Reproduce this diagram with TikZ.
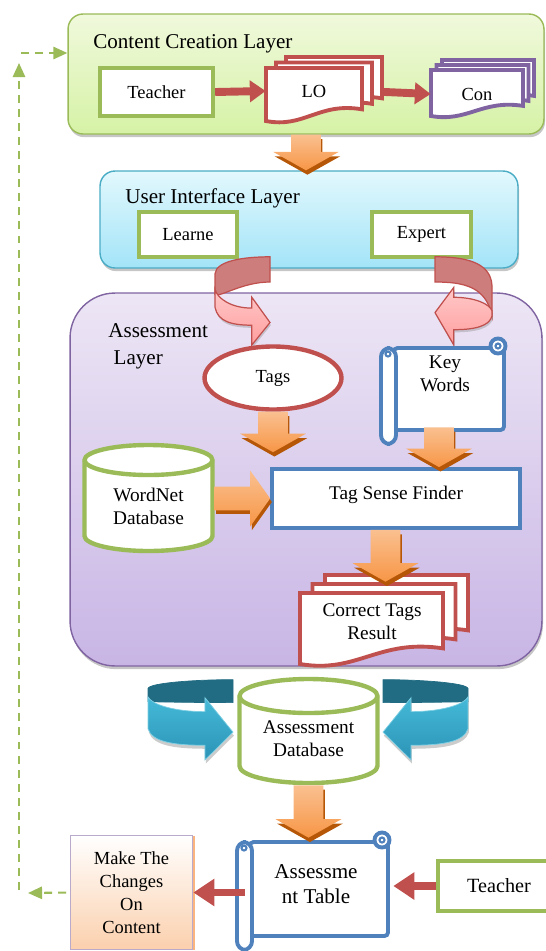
\documentclass[tikz,border=0pt]{standalone}
\usepackage{fontspec}
\setmainfont{Liberation Serif}
\usetikzlibrary{positioning,calc,shapes.geometric,arrows.meta,shadows}

\definecolor{lgreen}{HTML}{9BBB59}
\definecolor{lred}{HTML}{C0504D}
\definecolor{lpurple}{HTML}{8064A2}
\definecolor{lblue}{HTML}{4F81BD}
\definecolor{laqua}{HTML}{4BACC6}
\definecolor{lorange}{HTML}{F79646}
\definecolor{lorangelt}{HTML}{FAC090}
\definecolor{lorangedk}{HTML}{B65708}
\definecolor{tealdk}{HTML}{216C82}
\definecolor{teallt}{HTML}{45BAD8}
\definecolor{tealmd}{HTML}{2C93B6}
\definecolor{pinkdk}{HTML}{CD7D7C}
\definecolor{pinklt}{HTML}{FFC8C8}
\definecolor{pinkmd}{HTML}{FF9E9E}
\definecolor{cclTop}{HTML}{F0F9DC}
\definecolor{cclBot}{HTML}{D6F2A6}
\definecolor{uiTop}{HTML}{E2F8FD}
\definecolor{uiBot}{HTML}{A3E4F8}
\definecolor{alTop}{HTML}{EDE6F5}
\definecolor{alBot}{HTML}{C8B5E5}
\definecolor{peachBot}{HTML}{FBD0AD}

% stack of three pages, front one last
\newcommand{\docstack}[7]{%
  \foreach \i in {2,1,0}{%
    \pgfmathsetmacro{\xa}{#2+#6*\i}\pgfmathsetmacro{\ya}{#3-#7*\i}%
    \pgfmathsetmacro{\xb}{#4+#6*\i}\pgfmathsetmacro{\yb}{#5-#7*\i}%
    \draw[#1] (\xa,\ya) -- (\xb,\ya) -- (\xb,{\yb-0.22*(\yb-\ya)})
      .. controls ({\xa+0.55*(\xb-\xa)},{\yb-0.36*(\yb-\ya)}) and ({\xa+0.4*(\xb-\xa)},{\yb+0.14*(\yb-\ya)}) .. (\xa,\yb) -- cycle;}}

\newcommand{\scrollshape}[5]{%
  \draw[#1, rounded corners=2pt] ({#2+14},{#3+10}) rectangle ({#4-3},{#5-15});
  \draw[#1] ({#4-9},{#3+8}) circle[radius=7.5];
  \draw[#1, line width=1.2pt] ({#4-9},{#3+8}) circle[radius=2.5];
  \draw[#1, rounded corners=5pt] ({#2+1},{#3+10}) rectangle ({#2+16},{#5-1});
  \draw[#1, line width=1.2pt] ({#2+8},{#3+16}) circle[radius=2.5];}

\newcommand{\cylshape}[6]{%
  \draw[#1] ({#2-#5},#3) -- ({#2-#5},#4) arc[start angle=180, end angle=0, x radius=#5, y radius=#6]
    -- ({#2+#5},#3) arc[start angle=0, end angle=-180, x radius=#5, y radius=#6] -- cycle;
  \draw[#1, fill=none] ({#2-#5},#3) arc[start angle=180, end angle=0, x radius=#5, y radius=#6];}

\newcommand{\orangedown}[2]{%
  \fill[lorangedk] let \p1=#1, \p2=#2 in
    (\x1-7.7pt,\y1-2.5pt) -- (\x1-7.7pt,\y2+8pt) -- (\x1-17.9pt,\y2+8pt) -- (\x1+0.8pt,\y2-2.5pt)
    -- (\x1+19.5pt,\y2+8pt) -- (\x1+9.3pt,\y2+8pt) -- (\x1+9.3pt,\y1-2.5pt) -- cycle;
  \path[top color=lorangelt, bottom color=lorange] let \p1=#1, \p2=#2 in
    (\x1-8.5pt,\y1) -- (\x1-8.5pt,\y2+10.5pt) -- (\x1-18.7pt,\y2+10.5pt) -- (\x1,\y2)
    -- (\x1+18.7pt,\y2+10.5pt) -- (\x1+8.5pt,\y2+10.5pt) -- (\x1+8.5pt,\y1) -- cycle;}

\newcommand{\orangeright}[2]{%
  \fill[lorangedk] let \p1=#1, \p2=#2 in
    (\x1+1pt,\y2+4.8pt) -- (\x2-10.3pt,\y2+4.8pt) -- (\x2-10.3pt,\y2+13.9pt) -- (\x2+1pt,\y2-2pt)
    -- (\x2-10.3pt,\y2-17.9pt) -- (\x2-10.3pt,\y2-8.8pt) -- (\x1+1pt,\y2-8.8pt) -- cycle;
  \path[top color=lorangelt, bottom color=lorange] let \p1=#1, \p2=#2 in
    (\x1,\y2+6.8pt) -- (\x2-11.3pt,\y2+6.8pt) -- (\x2-11.3pt,\y2+15.9pt) -- (\x2,\y2)
    -- (\x2-11.3pt,\y2-15.9pt) -- (\x2-11.3pt,\y2-6.8pt) -- (\x1,\y2-6.8pt) -- cycle;}

% turning arrow in a unit box: shift, xscale, yscale, colour set,
% head top, band top, band bottom, tip, band start on the outer side
\newcommand{\uturn}[9]{%
  \begin{scope}[shift={#1}, xscale=#2, yscale=#3]
    \path[#4back] (1,0.02) .. controls (0.55,0.02) and (0.02,0.06) .. (0,{#9*0.55}) -- (0,{#9+0.06})
      .. controls (0.1,{#6-0.12}) and (0.5,0.3) .. (1,0.3) -- cycle;
    \path[#4front] (0,#9) -- (0,{max(#9+0.06,#7-0.2)}) .. controls (0.05,{#7-0.04}) and (0.3,#7) .. (0.67,#7)
      -- (0.67,1) -- (1,#8) -- (0.67,#5) -- (0.67,#6)
      .. controls (0.3,#6) and (0.04,{(#6+#9)/2}) .. (0,#9) -- cycle;
  \end{scope}}

\begin{document}
\begin{tikzpicture}[x=0.02cm, y=-0.02cm]
  \tikzstyle{txt}=[font=\fontsize{10.5}{12.6}\selectfont, align=center]
  \tikzstyle{cam}=[font=\fontsize{11}{13}\selectfont, align=center]
  \tikzstyle{layertitle}=[font=\fontsize{12}{15.3}\selectfont, inner sep=0pt]
  \tikzstyle{layerbox}=[draw, line width=0.8pt, drop shadow={opacity=0.45, shadow xshift=0.6pt, shadow yshift=-1.8pt}]
  \tikzstyle{greenbox}=[draw=lgreen, line width=2.5pt, fill=white, txt]
  \tikzstyle{redpage}=[draw=lred, line width=2.2pt, fill=white]
  \tikzstyle{purplepage}=[draw=lpurple, line width=2.2pt, fill=white]
  \tikzstyle{scrollline}=[draw=lblue, line width=2.2pt, fill=white]
  \tikzstyle{cylline}=[draw=lgreen, line width=2.5pt, fill=white]
  \tikzstyle{redarrow}=[draw=lred, line width=4.5pt, -{Triangle[width=12pt,length=9pt]}]
  \tikzstyle{redarrowbig}=[draw=lred, line width=4.5pt, -{Triangle[width=15pt,length=12pt]}]
  \tikzstyle{dasharrow}=[draw=lgreen, line width=1.2pt, dash pattern=on 4.5pt off 3.5pt, -{Triangle[width=7pt,length=8pt]}]
  \tikzstyle{pinkback}=[fill=pinkdk, draw=lred, line width=0.7pt]
  \tikzstyle{pinkfront}=[top color=pinklt, bottom color=pinkmd, draw=lred, line width=0.7pt,
    drop shadow={opacity=0.35, shadow xshift=0.5pt, shadow yshift=-1.5pt}]
  \tikzstyle{tealback}=[fill=tealdk, draw=tealdk, line width=0.4pt]
  \tikzstyle{tealfront}=[top color=teallt, bottom color=tealmd, draw=teallt!70!white, line width=0.4pt,
    drop shadow={opacity=0.4, shadow xshift=0.5pt, shadow yshift=-2pt}]

  \useasboundingbox (0,0) rectangle (545,951);

  % layers
  \node[layerbox, draw=lgreen, top color=cclTop, bottom color=cclBot, rounded corners=0.3cm,
        minimum width=9.52cm, minimum height=2.4cm] (ccl) at (306,74) {};
  \node[layerbox, draw=laqua, top color=uiTop, bottom color=uiBot, rounded corners=0.3cm,
        minimum width=8.36cm, minimum height=1.94cm] (ui) at (309,219.5) {};
  \node[layerbox, draw=lpurple, top color=alTop, bottom color=alBot, rounded corners=0.9cm,
        minimum width=9.44cm, minimum height=7.46cm] (al) at (306,479.5) {};
  \node[layertitle, anchor=west] (ccltitle) at (93,44) {Content Creation Layer};
  \node[layertitle, anchor=west] (uititle) at (125,198) {User Interface Layer};
  \node[layertitle, anchor=west, align=left] (altitle) at (108,346.5) {Assessment\\\hspace*{3pt}Layer};

  % content creation
  \node[greenbox, minimum width=2.26cm, minimum height=0.96cm] (teacherA) at (156.5,92) {Teacher};
  \docstack{redpage}{266}{68}{362}{121}{10}{5.5}
  \docstack{purplepage}{431}{70}{523}{116}{5.5}{5}
  \node[txt, minimum width=1.92cm, minimum height=1cm] (lo) at (314,91) {LO};
  \node[txt, minimum width=1.84cm, minimum height=1cm] (con) at (477,94) {Con};
  \draw[redarrow] (teacherA.east) -- (lo.west);
  \draw[redarrow, shorten <=11pt] (lo.east) -- (con.west);
  \orangedown{(ccl.south)}{(ui.north)}

  % user interface
  \node[greenbox, minimum width=1.96cm, minimum height=0.9cm] (learner) at (188,234.5) {Learne};
  \node[greenbox, minimum width=1.98cm, minimum height=0.9cm] (expert) at (421.5,234.5) {Expert};
  \uturn{(215,255)}{55}{90}{pink}{0.47}{0.59}{0.78}{0.75}{0.38}
  \uturn{(492,255)}{-57}{90}{pink}{0.36}{0.47}{0.83}{0.64}{0.62}

  % assessment
  \node[ellipse, draw=lred, line width=2.5pt, fill=white, txt, minimum width=2.74cm, minimum height=1.26cm] (tags) at (273,378) {Tags};
  \scrollshape{scrollline}{380}{338}{507}{445}
  \node[cam, minimum width=2.2cm, minimum height=2.12cm] (kw) at (445,374) {Key\\Words};
  \cylshape{cylline}{148.5}{460}{536}{64}{15}
  \node[cam, minimum width=2.62cm] (wordnet) at (148.5,506) {WordNet\\Database};
  \node[draw=lblue, line width=2.2pt, fill=white, cam, text depth=7pt,
        minimum width=4.96cm, minimum height=1.18cm] (tsf) at (396,498.5) {Tag Sense Finder};
  \docstack{redpage}{300}{593}{443}{664}{12.5}{9}
  \node[cam, minimum width=2.86cm, minimum height=1.6cm] (ctr) at (372,622) {Correct Tags\\Result};
  \orangedown{(tags.south)}{([yshift=8.5pt]tsf.north)}
  \orangedown{([xshift=-3.4pt]kw.south)}{(tsf.north)}
  \orangedown{([xshift=-6pt]tsf.south)}{(ctr.north)}
  \orangeright{(wordnet.east)}{(tsf.west)}

  % database
  \cylshape{cylline}{308.5}{696}{766}{69}{17}
  \node[cam, minimum width=2.86cm, minimum height=1.84cm] (adb) at (308.5,739) {Assessment\\Database};
  \uturn{(148,678)}{85}{82}{teal}{0.24}{0.41}{0.82}{0.66}{0.23}
  \uturn{(468,678)}{-85}{82}{teal}{0.24}{0.41}{0.82}{0.66}{0.23}

  % result row
  \scrollshape{scrollline}{236}{832}{391}{951}
  \node[font=\fontsize{12}{14.2}\selectfont, align=center, minimum width=3.08cm, minimum height=1.84cm] (table) at (316,884) {Assessme\\nt Table};
  \orangedown{(adb.south)}{(table.north)}
  \node[draw=lpurple!55, line width=1pt, top color=white, bottom color=peachBot,
        font=\fontsize{10.5}{13}\selectfont, align=center, minimum width=2.44cm, minimum height=2.28cm,
        drop shadow={fill=lorange, opacity=0.7, shadow xshift=1.4pt, shadow yshift=0pt}] (changes) at (131.5,892.5) {Make The\\Changes\\On\\Content};
  \node[greenbox, font=\fontsize{11.5}{13}\selectfont, minimum width=2.44cm, minimum height=1cm] (teacherB) at (499,886) {Teacher};
  \draw[redarrowbig] (teacherB.west) -- (teacherB.west -| table.east);
  \draw[redarrowbig, shorten <=-3.4pt] (table.west |- changes.east) -- (changes.east);

  % back to content creation
  \coordinate (loopL) at (28,893);
  \coordinate (loopB) at (19,890);
  \coordinate (loopT) at (19,63);
  \coordinate (loopH) at (21,53);
  \draw[dasharrow, shorten <=2pt] (changes.west) -- (loopL);
  \draw[dasharrow] (loopB) -- (loopT);
  \draw[dasharrow] (loopH) -- (loopH -| ccl.west);
\end{tikzpicture}
\end{document}
